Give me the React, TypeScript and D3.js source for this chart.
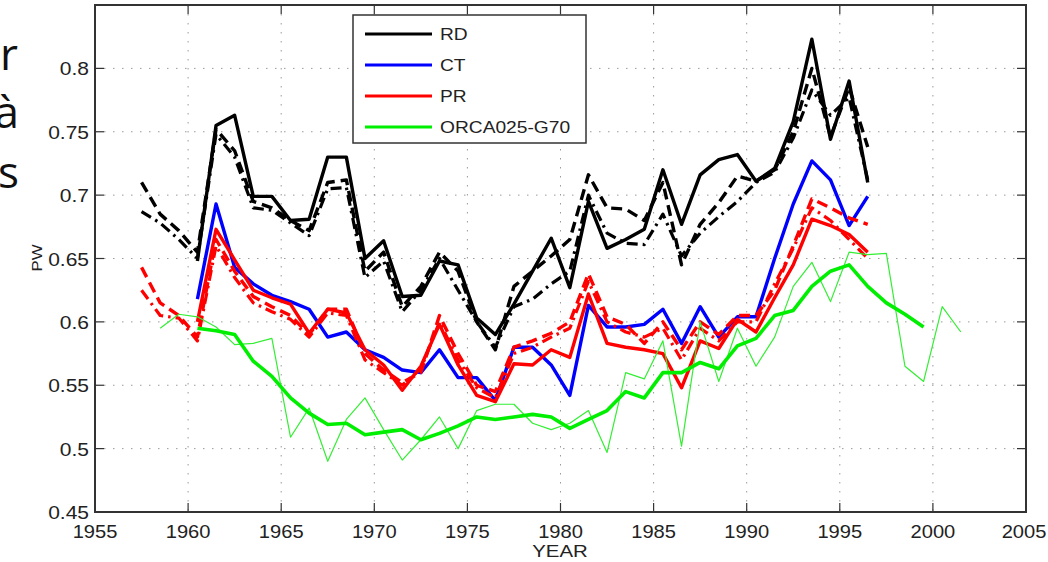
import React from "react";
import * as d3 from "d3";

// axis ticks
const yearTicks = [1955, 1960, 1965, 1970, 1975, 1980, 1985, 1990, 1995, 2000, 2005];
const pwTicks = [0.45, 0.5, 0.55, 0.6, 0.65, 0.7, 0.75, 0.8];
const pwTickLabels = ["0.45", "0.5", "0.55", "0.6", "0.65", "0.7", "0.75", "0.8"];

// years (values are plotted at mid-year)
const yearsShort = d3.range(1960, 1997); // solid series
const yearsLong = d3.range(1957, 1997); // dashed / dash-dot series
const yearsOrca = d3.range(1960, 2000);
const yearsOrcaRaw = d3.range(1958, 2002);

const rdSolid = [0.648, 0.755, 0.763, 0.699, 0.699, 0.68, 0.681, 0.73, 0.73, 0.65,
  0.664, 0.62, 0.621, 0.648, 0.645, 0.603, 0.59, 0.614, 0.64, 0.666,
  0.627, 0.695, 0.658, 0.665, 0.673, 0.72, 0.677, 0.716, 0.728, 0.732,
  0.711, 0.721, 0.758, 0.823, 0.744, 0.79, 0.71];
const rdDash = [0.71, 0.685, 0.672, 0.655,
  0.752, 0.735, 0.695, 0.69, 0.68, 0.672, 0.71, 0.712, 0.64, 0.655,
  0.612, 0.628, 0.655, 0.64, 0.6, 0.578, 0.628, 0.64, 0.652, 0.665,
  0.716, 0.69, 0.689, 0.68, 0.71, 0.645, 0.677, 0.694, 0.715, 0.711,
  0.72, 0.75, 0.8, 0.746, 0.785, 0.738];
const rdDashDot = [0.687, 0.678, 0.665, 0.65,
  0.748, 0.73, 0.69, 0.688, 0.678, 0.668, 0.705, 0.706, 0.635, 0.648,
  0.608, 0.625, 0.65, 0.625, 0.6, 0.58, 0.612, 0.618, 0.63, 0.64,
  0.7, 0.67, 0.662, 0.661, 0.685, 0.652, 0.67, 0.683, 0.695, 0.71,
  0.718, 0.745, 0.783, 0.763, 0.777, 0.712];
const ctSolid = [0.618, 0.693, 0.643, 0.63, 0.621, 0.616, 0.61, 0.588, 0.592, 0.578,
  0.572, 0.562, 0.56, 0.578, 0.556, 0.556, 0.538, 0.58, 0.58, 0.566,
  0.542, 0.613, 0.596, 0.596, 0.598, 0.61, 0.583, 0.612, 0.588, 0.604,
  0.604, 0.65, 0.693, 0.727, 0.712, 0.676, 0.699];
const prSolid = [0.6, 0.673, 0.649, 0.625, 0.619, 0.614, 0.591, 0.61, 0.607, 0.578,
  0.566, 0.546, 0.565, 0.598, 0.566, 0.542, 0.537, 0.567, 0.566, 0.578,
  0.572, 0.622, 0.583, 0.58, 0.578, 0.575, 0.548, 0.585, 0.579, 0.602,
  0.592, 0.619, 0.645, 0.681, 0.676, 0.669, 0.655];
const prDash = [0.643, 0.615, 0.605, 0.588,
  0.665, 0.64, 0.62, 0.612, 0.605, 0.59, 0.61, 0.61, 0.575, 0.562,
  0.552, 0.56, 0.605, 0.575, 0.55, 0.545, 0.58, 0.585, 0.591, 0.6,
  0.638, 0.604, 0.598, 0.583, 0.6, 0.578, 0.6, 0.59, 0.605, 0.605,
  0.625, 0.66, 0.697, 0.69, 0.682, 0.677];
const prDashDot = [0.625, 0.605, 0.603, 0.585,
  0.66, 0.635, 0.615, 0.608, 0.602, 0.588, 0.607, 0.605, 0.57, 0.56,
  0.55, 0.563, 0.6, 0.57, 0.548, 0.54, 0.575, 0.58, 0.588, 0.595,
  0.632, 0.6, 0.592, 0.588, 0.595, 0.57, 0.595, 0.585, 0.6, 0.6,
  0.63, 0.658, 0.69, 0.68, 0.665, 0.65];
const orcaSmooth = [0.595, 0.593, 0.59, 0.569, 0.557, 0.54, 0.528, 0.519, 0.52, 0.511,
  0.513, 0.515, 0.507, 0.512, 0.518, 0.525, 0.523, 0.525, 0.527, 0.525,
  0.516, 0.523, 0.53, 0.545, 0.54, 0.56, 0.56, 0.568, 0.563, 0.581,
  0.587, 0.605, 0.609, 0.628, 0.64, 0.645, 0.628, 0.615, 0.606, 0.596];
const orcaRaw = [0.595, 0.606, 0.604, 0.596, 0.582, 0.583, 0.587, 0.509, 0.532, 0.49,
  0.523, 0.54, 0.515, 0.491, 0.507, 0.525, 0.5, 0.53, 0.535, 0.535,
  0.52, 0.515, 0.52, 0.53, 0.497, 0.56, 0.555, 0.585, 0.502, 0.6,
  0.553, 0.595, 0.565, 0.588, 0.628, 0.647, 0.616, 0.655, 0.653, 0.654,
  0.565, 0.553, 0.612, 0.592];

const legendLabels = ["RD", "CT", "PR", "ORCA025-G70"];
const legendColors = ["#000000", "#0000ff", "#ff0000", "#00ee00"];

const W = 1048;
const H = 562;
const FONT = "'Liberation Sans', Arial, Helvetica, sans-serif";

export default function App() {
  const x = d3.scaleLinear().domain([1955, 2005]).range([95, 1026]);
  const y = d3.scaleLinear().domain([0.45, 0.85]).range([512, 5]);
  const [x0, x1] = x.range();
  const [y0, y1] = y.range();

  const line = d3.line<[number, number]>()
    .x(d => x(d[0] + 0.5))
    .y(d => y(d[1]));
  const path = (years: number[], vals: number[]) =>
    line(years.map((yr, i) => [yr, vals[i]] as [number, number])) || "";

  const series = [
    { d: path(yearsLong, rdDashDot), c: "#000", w: 3.2, dash: "11,5,2.5,5" },
    { d: path(yearsLong, rdDash), c: "#000", w: 3.4, dash: "11,6" },
    { d: path(yearsShort, rdSolid), c: "#000", w: 3.4, dash: "" },
    { d: path(yearsShort, ctSolid), c: "#0000ff", w: 3.4, dash: "" },
    { d: path(yearsLong, prDashDot), c: "#ff0000", w: 3.2, dash: "11,5,2.5,5" },
    { d: path(yearsLong, prDash), c: "#ff0000", w: 3.4, dash: "11,6" },
    { d: path(yearsShort, prSolid), c: "#ff0000", w: 3.4, dash: "" },
    { d: path(yearsOrcaRaw, orcaRaw), c: "#33ee33", w: 1.2, dash: "" },
    { d: path(yearsOrca, orcaSmooth), c: "#00ee00", w: 3.6, dash: "" },
  ];

  const txt = (tx: number, ty: number, s = 1.2) => `translate(${tx},${ty}) scale(${s},1)`;

  return (
    <svg width={W} height={H} style={{ position: "absolute", left: 0, top: 0, background: "#fff" }}>
      {/* clipped slide text at left */}
      <g fontFamily="'Open Sans', 'Noto Sans', sans-serif" fontSize={44} fill="#111" textAnchor="end">
        <text x={18} y={70}>r</text>
        <text x={19} y={128}>à</text>
        <text x={19} y={188}>s</text>
      </g>

      {/* grid */}
      <g stroke="#9a9a9a" strokeWidth={1} strokeDasharray="1.5,7.5">
        {yearTicks.slice(1, -1).map(t => (
          <line key={"gx" + t} x1={x(t)} x2={x(t)} y1={y1} y2={y0} />
        ))}
        {pwTicks.slice(1).map(t => (
          <line key={"gy" + t} x1={x0} x2={x1} y1={y(t)} y2={y(t)} />
        ))}
      </g>

      {/* series */}
      <g fill="none" strokeLinejoin="round">
        {series.map((s, i) => (
          <path key={i} d={s.d} stroke={s.c} strokeWidth={s.w} strokeDasharray={s.dash || undefined} />
        ))}
      </g>

      {/* ticks */}
      <g stroke="#333" strokeWidth={1.2}>
        {yearTicks.map(t => (
          <g key={"tx" + t}>
            <line x1={x(t)} x2={x(t)} y1={y0} y2={y0 - 9} />
            <line x1={x(t)} x2={x(t)} y1={y1} y2={y1 + 9} />
          </g>
        ))}
        {pwTicks.map(t => (
          <g key={"ty" + t}>
            <line x1={x0} x2={x0 + 9} y1={y(t)} y2={y(t)} />
            <line x1={x1} x2={x1 - 9} y1={y(t)} y2={y(t)} />
          </g>
        ))}
      </g>

      {/* frame */}
      <rect x={x0} y={y1} width={x1 - x0} height={y0 - y1} fill="none" stroke="#333" strokeWidth={2} />

      {/* tick labels */}
      <g fontFamily={FONT} fontSize={17.5} fill="#222">
        {yearTicks.map(t => (
          <text key={"lx" + t} transform={txt(Math.min(x(t), 1024), 538, 1.15)} textAnchor="middle">{t}</text>
        ))}
        {pwTicks.map((t, i) => (
          <text key={"ly" + t} transform={txt(89, y(t) + 7)} textAnchor="end">{pwTickLabels[i]}</text>
        ))}
      </g>

      {/* axis titles */}
      <text transform={txt(560, 557)} textAnchor="middle" fontFamily={FONT} fontSize={17} fill="#222">YEAR</text>
      <text transform={`translate(42,258) rotate(-90) scale(1.2,1)`} textAnchor="middle"
        fontFamily={FONT} fontSize={14} fill="#222">PW</text>

      {/* legend */}
      <g>
        <rect x={353} y={15} width={233} height={128} fill="#fff" stroke="#333" strokeWidth={1.5} />
        {legendLabels.map((lab, i) => {
          const ly = 34 + i * 31;
          return (
            <g key={lab}>
              <line x1={365} x2={432} y1={ly} y2={ly} stroke={legendColors[i]} strokeWidth={3.2} />
              <text transform={txt(440, ly + 6)} fontFamily={FONT} fontSize={16} fill="#222">{lab}</text>
            </g>
          );
        })}
      </g>
    </svg>
  );
}
